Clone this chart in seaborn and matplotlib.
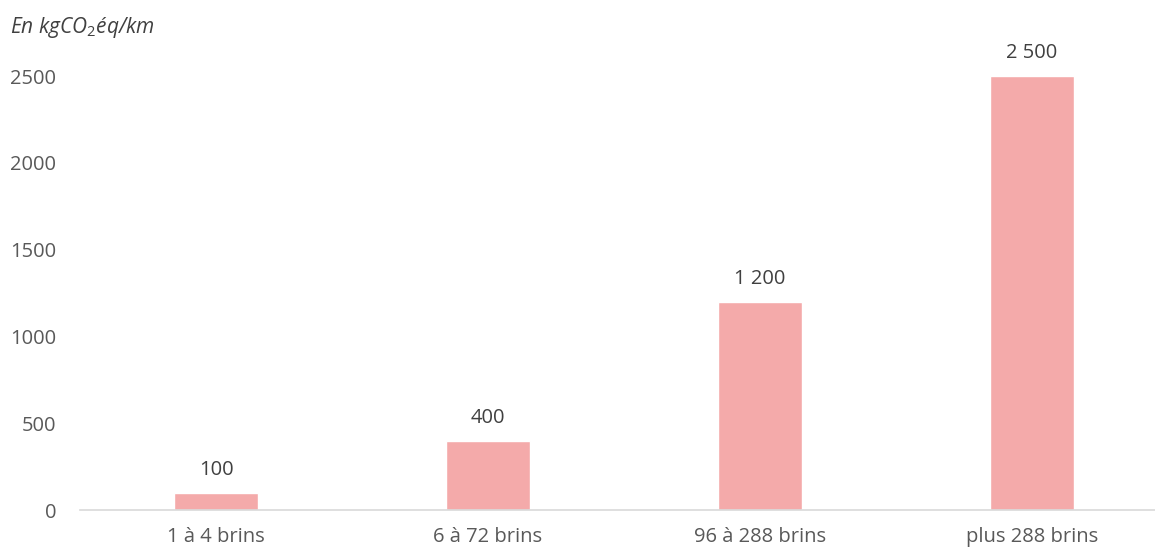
import matplotlib
matplotlib.use("Agg")
import matplotlib.pyplot as plt
import seaborn as sns
import pandas as pd

categories = ["1 à 4 brins", "6 à 72 brins", "96 à 288 brins", "plus 288 brins"]
values = [100, 400, 1200, 2500]
value_labels = ["100", "400", "1 200", "2 500"]
yticks = [0, 500, 1000, 1500, 2000, 2500]

sns.set_theme(style="white")
plt.rcParams['font.family'] = ['Open Sans', 'DejaVu Sans']
plt.rcParams['mathtext.fontset'] = 'custom'
plt.rcParams['mathtext.it'] = 'Open Sans:italic'
plt.rcParams['mathtext.rm'] = 'Open Sans'

df = pd.DataFrame({"cat": categories, "val": values})

fig = plt.figure(figsize=(11.55, 5.5), dpi=100)
ax = fig.add_axes([80/1155, 1-510/550, 1088/1155, 434/550])
sns.barplot(data=df, x="cat", y="val", color="#F4AAAA", saturation=1, width=0.31, ax=ax)
ax.set_ylim(0, 2500)
ax.set_xlim(-0.5, 3.5)
ax.set_yticks(yticks)
ax.set_yticklabels([str(t) for t in yticks], color="#595959", fontsize=14.5)
ax.set_xticklabels(categories, color="#595959", fontsize=14.5)
ax.tick_params(axis="x", length=0, pad=12)
ax.tick_params(axis="y", length=0, pad=17)
ax.set_xlabel("")
ax.set_ylabel("")
for s in ["top", "right", "left"]:
    ax.spines[s].set_visible(False)
ax.spines["bottom"].set_color("#D9D9D9")
ax.spines["bottom"].set_linewidth(1.2)

for i, (v, lab) in enumerate(zip(values, value_labels)):
    ax.annotate(lab, (i, v), xytext=(0, 9), textcoords="offset points",
                ha="center", va="bottom", fontsize=14.5, color="#404040", annotation_clip=False)

fig.text(10/1155, 1-28/550, r"En kgCO$_2$éq/km", fontsize=15, style="italic", color="#404040",
         va="center", ha="left")

fig.savefig("out.png", dpi=100)
